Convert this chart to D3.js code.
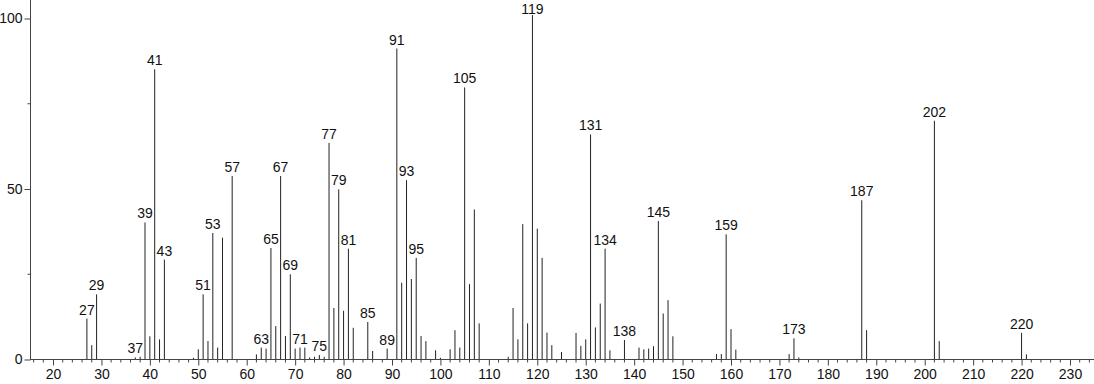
<!DOCTYPE html>
<html lang="en">
<head>
    <meta charset="UTF-8">
    <title>Mass spectrum</title>
    <script src="https://cdn.jsdelivr.net/npm/d3@7"></script>
    <style>
        body {
          margin: 0;
          background: #fff;
        }
        text {
          font-family: "Liberation Sans", Arial, sans-serif;
          font-size: 14px;
          fill: #111;
        }
        .axis path, .axis line {
          stroke: #444;
        }
    </style>
</head>
<body>
    <script>
        // m/z values and relative intensities (%)
        let mz = [27, 28, 29, 37, 38, 39, 40, 41, 42, 43, 49, 50, 51, 52, 53, 54, 55, 57,
                  62, 63, 64, 65, 66, 67, 68, 69, 70, 71, 72, 73, 74, 75, 76, 77, 78, 79, 80,
                  81, 82, 85, 86, 89, 91, 92, 93, 94, 95, 96, 97, 99, 100, 102, 103, 104,
                  105, 106, 107, 108, 114, 115, 116, 117, 118, 119, 120, 121, 122, 123, 125,
                  128, 129, 130, 131, 132, 133, 134, 135, 138, 141, 142, 143, 144, 145, 146,
                  147, 148, 157, 158, 159, 160, 161, 172, 173, 174, 187, 188, 202, 203, 220, 221];
        let intensity = [12.0, 4.2, 19.1, 0.6, 0.8, 40.2, 6.8, 85.1, 5.9, 29.3, 0.5, 3.0, 19.1, 5.4, 37.1, 3.5, 35.7, 53.8,
                  1.5, 3.5, 3.2, 32.7, 9.8, 53.8, 6.9, 25.0, 3.2, 3.5, 3.5, 0.6, 0.8, 1.3, 0.8, 63.5, 15.1, 49.9, 14.3,
                  32.5, 9.3, 11.0, 2.5, 3.2, 91.2, 22.5, 52.6, 23.6, 29.8, 6.9, 5.4, 2.7, 0.5, 3.0, 8.6, 3.5,
                  79.8, 22.1, 44.0, 10.6, 0.8, 15.1, 5.9, 39.7, 10.6, 101, 38.4, 29.8, 7.9, 4.2, 2.2,
                  7.8, 4.0, 5.9, 66.0, 9.4, 16.4, 32.5, 2.7, 5.7, 3.5, 3.0, 3.2, 3.9, 40.6, 13.5,
                  17.4, 6.8, 1.6, 1.6, 36.7, 8.9, 2.9, 1.6, 6.2, 0.6, 46.7, 8.6, 70.0, 5.4, 7.8, 1.5];
        // peaks that carry a label
        let labeled = [27, 29, 37, 39, 41, 43, 51, 53, 57, 63, 65, 67, 69, 71, 75, 77, 79, 81, 85, 89,
                       91, 93, 95, 105, 119, 131, 134, 138, 145, 159, 173, 187, 202, 220];
        let xTicks = d3.range(20, 231, 10);
        let xMinor = d3.range(16, 236, 2).filter(d => d % 10 !== 0);
        let yTicks = [0, 50, 100];
        let yMinor = [25, 75];

        let w = 1094;
        let h = 384;

        let svg = d3.select('body')
                    .append('svg')
                    .attr('width', w)
                    .attr('height', h);

        let x = d3.scaleLinear().domain([20, 230]).range([53, 1070]);
        let y = d3.scaleLinear().domain([0, 100]).range([359.5, 18.5]);

        let peaks = mz.map((m, i) => ({ mz: m, v: intensity[i] }));

        // peaks
        svg.append('g')
           .selectAll('line')
           .data(peaks)
           .enter()
           .append('line')
           .attr('x1', d => x(d.mz))
           .attr('x2', d => x(d.mz))
           .attr('y1', y(0))
           .attr('y2', d => y(d.v))
           .attr('stroke', '#222')
           .attr('stroke-width', 1);

        // labels (kept inside the top edge)
        svg.append('g')
           .selectAll('text')
           .data(peaks.filter(d => labeled.includes(d.mz)))
           .enter()
           .append('text')
           .attr('x', d => x(d.mz))
           .attr('y', d => Math.max(13.5, y(d.v) - 4))
           .attr('text-anchor', 'middle')
           .text(d => d.mz);

        // x axis
        let gx = svg.append('g')
                    .attr('class', 'axis')
                    .attr('transform', 'translate(0,' + y(0) + ')');
        gx.call(d3.axisBottom(x).tickValues(xTicks).tickSize(6).tickPadding(4).tickSizeOuter(0))
          .call(g => g.select('.domain').remove())
          .call(g => g.selectAll('text').style('font-size', '14px').attr('fill', '#111'));
        gx.selectAll('.minor')
          .data(xMinor)
          .enter()
          .append('line')
          .attr('class', 'minor')
          .attr('x1', d => x(d))
          .attr('x2', d => x(d))
          .attr('y1', 0)
          .attr('y2', 3);
        gx.append('line')
          .attr('x1', 30)
          .attr('x2', w)
          .attr('y1', 0)
          .attr('y2', 0);

        // y axis
        let gy = svg.append('g')
                    .attr('class', 'axis')
                    .attr('transform', 'translate(30.5,0)');
        gy.call(d3.axisLeft(y).tickValues(yTicks).tickSize(6).tickPadding(2).tickSizeOuter(0))
          .call(g => g.select('.domain').remove())
          .call(g => g.selectAll('text').style('font-size', '14px').attr('fill', '#111'));
        gy.selectAll('.minor')
          .data(yMinor)
          .enter()
          .append('line')
          .attr('class', 'minor')
          .attr('x1', -3)
          .attr('x2', 0)
          .attr('y1', d => y(d))
          .attr('y2', d => y(d));
        gy.append('line')
          .attr('x1', 0)
          .attr('x2', 0)
          .attr('y1', 0)
          .attr('y2', y(0));
    </script>
</body>
</html>
